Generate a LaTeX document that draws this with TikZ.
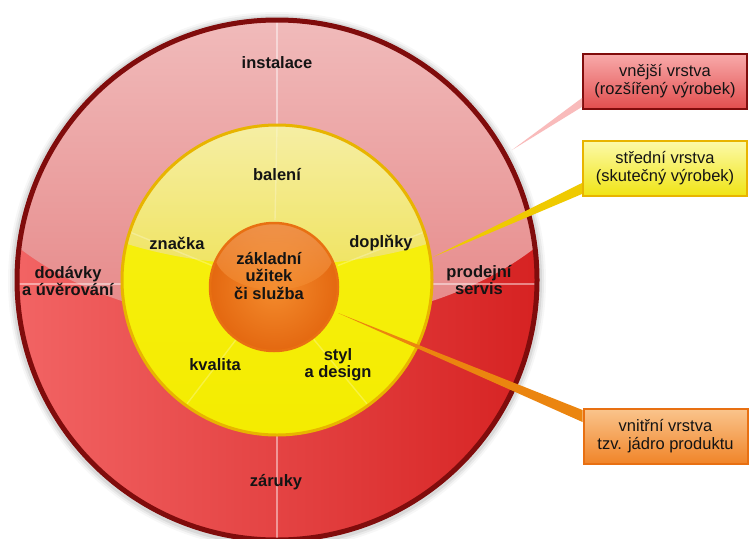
\documentclass[tikz,border=0pt]{standalone}
\usepackage{fontspec}
\setmainfont{Liberation Sans}
\usetikzlibrary{calc}
\definecolor{rimred}{RGB}{128,12,12}
\definecolor{outlowL}{RGB}{242,100,100}
\definecolor{outlowR}{RGB}{214,34,34}
\definecolor{hitop}{RGB}{244,204,204}
\definecolor{hibot}{RGB}{230,136,136}
\definecolor{yeltop}{RGB}{249,245,205}
\definecolor{yelmid}{RGB}{240,228,100}
\definecolor{yellow1}{RGB}{247,241,20}
\definecolor{yellow2}{RGB}{244,236,0}
\definecolor{yelrim}{RGB}{232,180,0}
\definecolor{orin}{RGB}{244,140,46}
\definecolor{orout}{RGB}{228,104,16}
\definecolor{orrim}{RGB}{232,112,18}
\definecolor{rboxtop}{RGB}{248,170,170}
\definecolor{rboxbot}{RGB}{226,78,78}
\definecolor{yboxtop}{RGB}{252,250,170}
\definecolor{yboxbot}{RGB}{240,228,20}
\definecolor{oboxtop}{RGB}{250,196,140}
\definecolor{oboxbot}{RGB}{240,132,40}
\definecolor{txt}{RGB}{20,20,20}
\tikzset{
  lbl/.style={font=\bfseries\fontsize{16.5}{17.5}\selectfont, text=txt, align=center, inner sep=0pt},
  boxtxt/.style={font=\fontsize{16.5}{18}\selectfont, text=txt, align=center, minimum width=164pt, minimum height=55pt, inner sep=0pt},
  divline/.style={white, line width=1.6pt, opacity=0.45},
  ydivline/.style={white, line width=1.4pt, opacity=0.25},
}
\begin{document}
\begin{tikzpicture}[x=1pt,y=-1pt]
\useasboundingbox (0,0) rectangle (749,538);
\fill[white] (0,0) rectangle (749,538);
% soft shadow
\foreach \r/\o in {269/0.03,267/0.05,265/0.07} \fill[black,opacity=\o] (277,281) circle [radius=\r pt];
% outer ring
\coordinate (C) at (277,280);
\shade[left color=outlowL, right color=outlowR] (C) circle [radius=262pt];
\begin{scope}
  \clip (C) circle [radius=262pt];
  \shade[top color=hitop, bottom color=hibot] (277,120) ellipse [x radius=330pt, y radius=205pt];
\end{scope}
\draw[divline] (277,18) -- (277,126);
\draw[divline] (277,434) -- (277,540);
\draw[divline] (16,284) -- (122,284);
\draw[divline] (432,284) -- (538,284);
\draw[rimred, line width=5pt] (C) circle [radius=260pt];
% middle ring
\coordinate (Y) at (277,280);
\shade[top color=yellow1, bottom color=yellow2] (Y) circle [radius=155pt];
\begin{scope}
  \clip (Y) circle [radius=155pt];
  \shade[top color=yeltop, bottom color=yelmid] (277,150) ellipse [x radius=260pt, y radius=115pt];
\end{scope}
\foreach \a in {90,162,18,-126,-54}
  \draw[ydivline] ($(275,286)+(\a:66pt)$) -- ($(277,280)+(\a:153pt)$);
\draw[yelrim, line width=3pt] (Y) circle [radius=155pt];
% core
\coordinate (O) at (274,287);
\shade[inner color=orin, outer color=orout] (O) circle [radius=64pt];
\begin{scope}
  \clip (O) circle [radius=64pt];
  \shade[top color=orin!55!white, bottom color=orin, opacity=0.5] (274,252) ellipse [x radius=60pt, y radius=38pt];
\end{scope}
\draw[orrim, line width=2.5pt] (O) circle [radius=64pt];
% boxes
\node[boxtxt, draw=rimred, line width=1.6pt, top color=rboxtop, bottom color=rboxbot] (rb) at (665,81.5) {vnější vrstva\\(rozšířený výrobek)};
\node[boxtxt, draw=yelrim, line width=2pt, top color=yboxtop, bottom color=yboxbot] (yb) at (665,168.5) {střední vrstva\\(skutečný výrobek)};
\node[boxtxt, draw=orrim, line width=2pt, top color=oboxtop, bottom color=oboxbot] (ob) at (665.5,436.5) {vnitřní vrstva\\tzv. jádro produktu};
% callout wedges
\coordinate (tr) at (512,150);
\coordinate (ty) at (433,257);
\coordinate (to) at (338,313);
\fill[rboxtop!80!white] (tr) -- ($(rb.south west)+(0,-12)$) -- ($(rb.south west)+(0,-3)$) -- cycle;
\fill[yelrim!70!yellow] (ty) -- ($(yb.south west)+(0,-14)$) -- ($(yb.south west)+(0,-3)$) -- cycle;
\fill[orrim!85!yellow] (to) -- ($(ob.north west)+(0,2)$) -- ($(ob.north west)+(0,14)$) -- cycle;
% labels
\node[lbl] (l1) at (277,63) {instalace};
\node[lbl] (l2) at (277,175) {balení};
\node[lbl] (l3) at (177,243) {značka};
\node[lbl] (l4) at (381,243) {doplňky};
\node[lbl] (l5) at (269,276) {základní\\užitek\\či služba};
\node[lbl] (l6) at (68,281) {dodávky\\a úvěrování};
\node[lbl] (l7) at (479,280) {prodejní\\servis};
\node[lbl] (l8) at (215,365) {kvalita};
\node[lbl] (l9) at (338,365) {styl\\a design};
\node[lbl] (l10) at (276,482) {záruky};
\end{tikzpicture}
\end{document}
